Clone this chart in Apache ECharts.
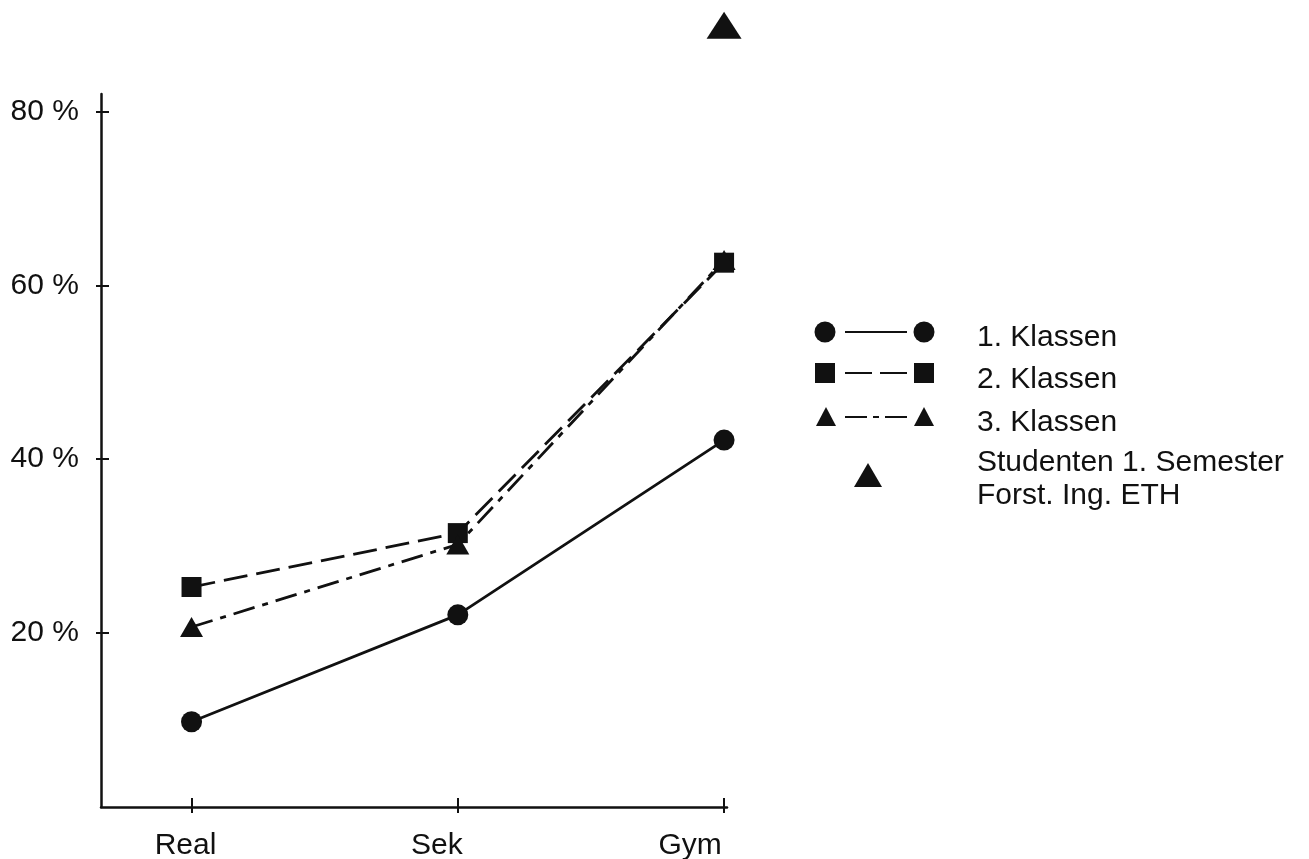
<!DOCTYPE html>
<html>
<head>
<meta charset="utf-8">
<script src="https://cdn.jsdelivr.net/npm/echarts@6/dist/echarts.min.js"></script>
<style>
html,body{margin:0;padding:0;background:#fff;}
#chart{width:1309px;height:859px;}
</style>
</head>
<body>
<div id="chart"></div>
<script>
// ---- data ----
var categories = ['Real', 'Sek', 'Gym'];
var yTicks = [20, 40, 60, 80];
var klassen1 = [9.8, 22.1, 42.2];
var klassen2 = [25.3, 31.5, 62.6];
var klassen3 = [20.7, 30.2, 62.9];
var studenten = [null, null, 89.9];
var seriesNames = ['1. Klassen', '2. Klassen', '3. Klassen', 'Studenten 1. Semester', 'Forst. Ing. ETH'];

var INK = '#111';
var FONT = 'Liberation Sans, Arial, Helvetica, sans-serif';
var FS = 30;

function pairs(arr) {
  var out = [];
  arr.forEach(function (v, i) { if (v !== null) out.push([i, v]); });
  return out;
}

// per-label shift (visual offset of the printed labels left of their ticks)
var labelPad = [12, 42, 68];

var chart = echarts.init(document.getElementById('chart'), null, {renderer: 'canvas'});

var xBase = {
  type: 'value', min: -0.34, max: 2.011,
  splitLine: {show: false}
};
var yBase = {
  type: 'value', min: 0, max: 82,
  splitLine: {show: false}
};

var rich = {};
categories.forEach(function (c, i) {
  rich['c' + i] = {fontFamily: FONT, fontSize: FS, color: INK, padding: [0, labelPad[i], 0, 0]};
});

var option = {
  backgroundColor: '#fff',
  animation: false,
  grid: {left: 101, right: 582, top: 94, bottom: 52, containLabel: false, outerBoundsMode: 'none'},
  xAxis: [
    Object.assign({}, xBase, {
      axisLine: {show: true, onZero: false, lineStyle: {color: INK, width: 2.5}},
      axisTick: {show: true, customValues: [0, 1, 2], length: 6, lineStyle: {color: INK, width: 2}},
      axisLabel: {
        show: true, customValues: [0, 1, 2], margin: 24,
        formatter: function (v) { var i = Math.round(v); return '{c' + i + '|' + categories[i] + '}'; },
        rich: rich
      }
    }),
    Object.assign({}, xBase, {
      position: 'bottom',
      axisLine: {show: false, onZero: false},
      axisTick: {show: true, inside: true, customValues: [0, 1, 2], length: 9, lineStyle: {color: INK, width: 2}},
      axisLabel: {show: false}
    })
  ],
  yAxis: [
    Object.assign({}, yBase, {
      axisLine: {show: true, onZero: false, lineStyle: {color: INK, width: 2.5}},
      axisTick: {show: true, customValues: yTicks, length: 5, lineStyle: {color: INK, width: 2}},
      axisLabel: {
        show: true, customValues: yTicks, margin: 22,
        fontFamily: FONT, fontSize: FS, color: INK,
        formatter: function (v) { return v + ' %'; }
      }
    }),
    Object.assign({}, yBase, {
      position: 'left',
      axisLine: {show: false, onZero: false},
      axisTick: {show: true, inside: true, customValues: yTicks, length: 8, lineStyle: {color: INK, width: 2}},
      axisLabel: {show: false}
    })
  ],
  series: [
    {
      name: seriesNames[0], type: 'line', data: pairs(klassen1),
      symbol: 'circle', symbolSize: 21, showSymbol: true,
      itemStyle: {color: INK, opacity: 1}, lineStyle: {color: INK, width: 2.8, type: 'solid'}
    },
    {
      name: seriesNames[1], type: 'line', data: pairs(klassen2),
      symbol: 'rect', symbolSize: 20, showSymbol: true,
      itemStyle: {color: INK, opacity: 1}, lineStyle: {color: INK, width: 2.8, type: [24, 9]}
    },
    {
      name: seriesNames[2], type: 'line', data: pairs(klassen3),
      symbol: 'triangle', symbolSize: [23, 20], showSymbol: true,
      itemStyle: {color: INK, opacity: 1}, lineStyle: {color: INK, width: 2.8, type: [22, 8, 6, 8]}
    },
    {
      name: seriesNames[3], type: 'scatter', data: pairs(studenten), clip: false,
      symbol: 'triangle', symbolSize: [35, 27],
      itemStyle: {color: INK, opacity: 1}
    }
  ],
  graphic: [
    // legend row 1
    {type: 'circle', shape: {cx: 825, cy: 332, r: 10.5}, style: {fill: INK}},
    {type: 'line', shape: {x1: 845, y1: 332, x2: 907, y2: 332}, style: {stroke: INK, lineWidth: 2}},
    {type: 'circle', shape: {cx: 924, cy: 332, r: 10.5}, style: {fill: INK}},
    {type: 'text', style: {text: seriesNames[0], x: 977, y: 338, verticalAlign: 'middle', font: FS + 'px ' + FONT, fill: INK}},
    // legend row 2
    {type: 'rect', shape: {x: 815, y: 363, width: 20, height: 20}, style: {fill: INK}},
    {type: 'line', shape: {x1: 845, y1: 373, x2: 907, y2: 373}, style: {stroke: INK, lineWidth: 2, lineDash: [27, 8]}},
    {type: 'rect', shape: {x: 914, y: 363, width: 20, height: 20}, style: {fill: INK}},
    {type: 'text', style: {text: seriesNames[1], x: 977, y: 380, verticalAlign: 'middle', font: FS + 'px ' + FONT, fill: INK}},
    // legend row 3
    {type: 'polygon', shape: {points: [[826, 407], [836, 426], [816, 426]]}, style: {fill: INK}},
    {type: 'line', shape: {x1: 845, y1: 417, x2: 907, y2: 417}, style: {stroke: INK, lineWidth: 2, lineDash: [22, 6, 6, 6]}},
    {type: 'polygon', shape: {points: [[924, 407], [934, 426], [914, 426]]}, style: {fill: INK}},
    {type: 'text', style: {text: seriesNames[2], x: 977, y: 423, verticalAlign: 'middle', font: FS + 'px ' + FONT, fill: INK}},
    // legend row 4
    {type: 'polygon', shape: {points: [[868, 463], [882, 487], [854, 487]]}, style: {fill: INK}},
    {type: 'text', style: {text: seriesNames[3], x: 977, y: 463, verticalAlign: 'middle', font: FS + 'px ' + FONT, fill: INK}},
    {type: 'text', style: {text: seriesNames[4], x: 977, y: 496, verticalAlign: 'middle', font: FS + 'px ' + FONT, fill: INK}}
  ]
};
chart.setOption(option);
</script>
</body>
</html>
